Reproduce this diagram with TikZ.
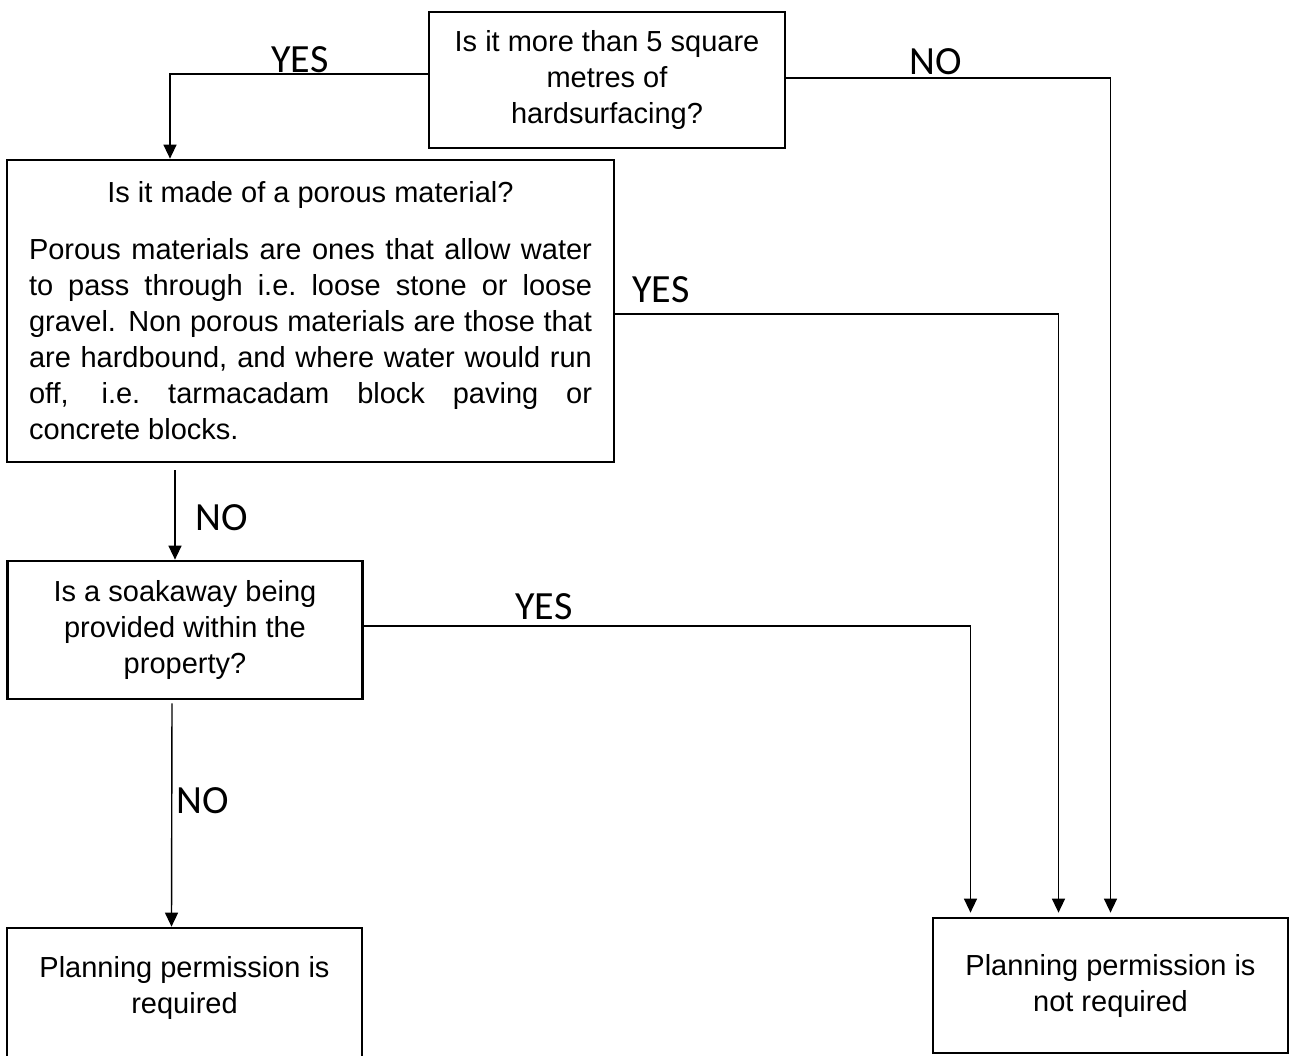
\documentclass[tikz,border=0pt]{standalone}
\usepackage{fontspec}
\setmainfont{Liberation Sans}
\newfontfamily\answerfont{Carlito}
\usetikzlibrary{arrows.meta}

\begin{document}
\begin{tikzpicture}[x=1pt, y=-1pt, >={Triangle[length=14pt,width=13pt]},
    box/.style={draw, line width=2.7pt, align=center, inner sep=0pt,
        font=\fontsize{29}{36}\selectfont},
    link/.style={->, line width=1.4pt},
    answer/.style={font=\answerfont\fontsize{40}{44}\selectfont, inner sep=0pt}]

    \useasboundingbox (0,0) rectangle (1293,1056);

    % Boxes
    \node[box, minimum width=356pt, minimum height=136pt] (area) at (607,80)
        {Is it more than 5 square\\metres of\\hardsurfacing?};

    \node[box, minimum width=607pt, minimum height=302pt, text width=563pt,
        align=justify] (porous) at (310.5,311)
        {{\centering Is it made of a porous material?\par}\vspace{21pt}
        Porous materials are ones that allow water\linebreak
        to pass through i.e.\ loose stone or loose\linebreak
        gravel.  Non porous materials are those that\linebreak
        are hardbound, and where water would run\linebreak
        off, i.e.\ tarmacadam block paving or\linebreak
        concrete blocks.};

    \node[box, minimum width=355pt, minimum height=138pt] (soak) at (185,630)
        {Is a soakaway being\\provided within the\\property?};

    \node[box, minimum width=355pt, minimum height=150pt] (req) at (184.5,1003)
        {Planning permission is\\required\\\mbox{}};

    \node[box, minimum width=355pt, minimum height=135pt] (notreq) at (1110.5,985.5)
        {Planning permission is\\not required};

    % Connectors
    \draw[link] ([yshift=6pt]area.west) -| ([xshift=-140.5pt]porous.north);
    \draw[link] ([yshift=2pt]area.east) -| ([yshift=4pt]notreq.north);
    \draw[link] ([yshift=-3pt]porous.east) -| ([xshift=-52pt,yshift=4pt]notreq.north);
    \draw[link] ([yshift=4pt]soak.east) -| ([xshift=-140pt,yshift=4pt]notreq.north);
    \draw[link] ([xshift=-10pt,yshift=-7pt]soak.north |- porous.south) -- ([xshift=-10pt]soak.north);
    \draw[link] ([xshift=-13pt,yshift=-3pt]soak.south) -- ([xshift=-13pt]req.north);

    % Answers
    \node[answer] (yes1) at (300,60) {YES};
    \node[answer] (no1) at (936,62) {NO};
    \node[answer] (yes2) at (661,290) {YES};
    \node[answer] (no2) at (222,518) {NO};
    \node[answer] (yes3) at (544,607) {YES};
    \node[answer] (no3) at (203,801) {NO};

\end{tikzpicture}
\end{document}
